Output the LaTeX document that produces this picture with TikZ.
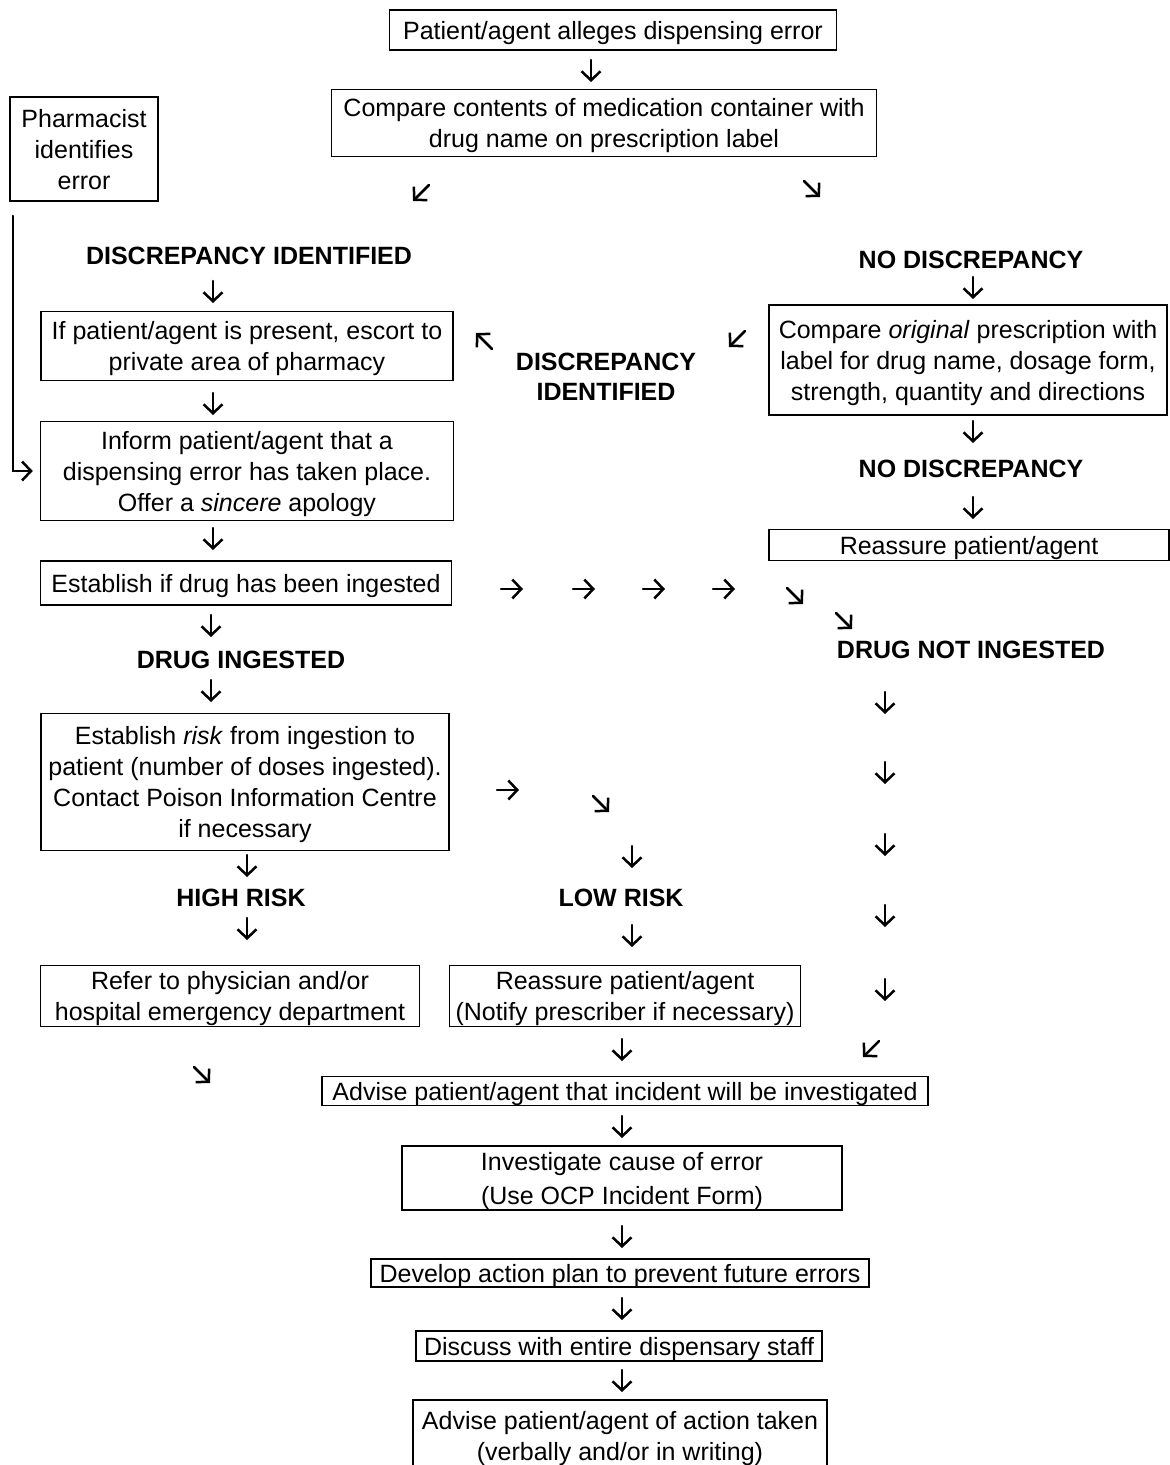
\documentclass[tikz,border=0pt]{standalone}
\usepackage{fontspec}
\setmainfont{Liberation Sans}
\usetikzlibrary{arrows.meta}
\newcommand\GlyDn[2]{\draw[glyph] (#1,{#2-11}) -- (#1,{#2+11});}
\newcommand\GlyRt[2]{\draw[glyph] ({#1-11},#2) -- ({#1+11},#2);}
\newcommand\GlyDR[2]{\draw[glyph] ({#1-8},{#2-8}) -- ({#1+8},{#2+8});}
\newcommand\GlyDL[2]{\draw[glyph] ({#1+8},{#2-8}) -- ({#1-8},{#2+8});}
\newcommand\GlyUL[2]{\draw[glyph] ({#1+8},{#2+8}) -- ({#1-8},{#2-8});}
\begin{document}
\begin{tikzpicture}[x=0.5pt,y=-0.5pt,
  box/.style={draw,line width=0.75pt,align=center,inner sep=0pt,text depth=0pt,font=\fontsize{12.5}{15.5}\selectfont},
  lbl/.style={align=center,inner sep=0pt,font=\fontsize{12.5}{15}\selectfont\bfseries},
  glyph/.style={line width=1.25pt,line cap=round,-{Straight Barb[length=4.5pt,width=9.5pt,line width=1.25pt]}},
]
\useasboundingbox (0,0) rectangle (1169,1465);
\fill[white] (0,0) rectangle (1169,1465);

\node[box,minimum width=223.5pt,minimum height=20pt] (allege) at (613,30) {Patient/agent alleges dispensing error};
\node[box,minimum width=272.5pt,minimum height=33.5pt] (compare) at (604,123) {Compare contents of medication container with\\drug name on prescription label};
\node[box,minimum width=74pt,minimum height=52pt] (pharm) at (84,149) {Pharmacist\\identifies\\error};
\node[lbl] (disc1) at (249,256) {DISCREPANCY IDENTIFIED};
\node[lbl] (nodisc1) at (971,260) {NO DISCREPANCY};
\node[box,minimum width=206pt,minimum height=34.5pt] (escort) at (247,346) {If patient/agent is present, escort to\\private area of pharmacy};
\node[lbl] (disc2) at (606,377) {DISCREPANCY\\IDENTIFIED};
\node[box,minimum width=199pt,minimum height=55pt] (orig) at (968,360) {Compare \textit{original} prescription with\\label for drug name, dosage form,\\strength, quantity and directions};
\node[box,minimum width=206.5pt,minimum height=49.5pt] (inform) at (247,471) {Inform patient/agent that a\\dispensing error has taken place.\\Offer a \textit{sincere} apology};
\node[lbl] (nodisc2) at (971,469) {NO DISCREPANCY};
\node[box,minimum width=200pt,minimum height=15.5pt] (reass1) at (969,545) {Reassure patient/agent};
\node[box,minimum width=205.5pt,minimum height=22pt] (ingest) at (246,583) {Establish if drug has been ingested};
\node[lbl] (ingd) at (241,660) {DRUG INGESTED};
\node[lbl] (noting) at (971,650) {DRUG NOT INGESTED};
\node[box,minimum width=204pt,minimum height=68.5pt] (risk) at (245,782) {Establish \textit{risk} from ingestion to\\patient (number of doses ingested).\\Contact Poison Information Centre\\if necessary};
\node[lbl] (high) at (241,898) {HIGH RISK};
\node[lbl] (low) at (621,898) {LOW RISK};
\node[box,minimum width=189.5pt,minimum height=30.5pt] (refer) at (230,996) {Refer to physician and/or\\hospital emergency department};
\node[box,minimum width=175.5pt,minimum height=30.5pt] (notify) at (625,996) {Reassure patient/agent\\(Notify prescriber if necessary)};
\node[box,minimum width=303pt,minimum height=14.5pt] (investig) at (625,1091) {Advise patient/agent that incident will be investigated};
\node[box,minimum width=220pt,minimum height=32pt,font=\fontsize{12.5}{17}\selectfont] (cause) at (622,1178) {Investigate cause of error\\(Use OCP Incident Form)};
\node[box,minimum width=249pt,minimum height=14pt] (plan) at (620,1273) {Develop action plan to prevent future errors};
\node[box,minimum width=203pt,minimum height=15pt] (staff) at (619,1346) {Discuss with entire dispensary staff};
\node[box,minimum width=207pt,minimum height=36pt] (told) at (620,1436) {Advise patient/agent of action taken\\(verbally and/or in writing)};

% pharmacist bypass line
\draw[glyph,line width=1pt] ([xshift=2pt,yshift=-7pt]pharm.south west) |- ([xshift=-3.5pt]inform.west);

% arrow glyphs
\GlyDn{591}{71}
\GlyDL{421}{193}
\GlyDR{812}{189}
\GlyDn{213}{292}
\GlyDn{213}{404}
\GlyDn{213}{539}
\GlyDn{211}{626}
\GlyDn{211}{691}
\GlyDn{247}{866}
\GlyDn{247}{929}
\GlyDn{973}{288}
\GlyDn{973}{432}
\GlyDn{973}{508}
\GlyUL{484}{341}
\GlyDL{737}{339}
\GlyRt{512}{589}
\GlyRt{584}{589}
\GlyRt{654}{589}
\GlyRt{724}{589}
\GlyDR{795}{596}
\GlyDR{844}{621}
\GlyDn{885}{703}
\GlyDn{885}{773}
\GlyDn{885}{845}
\GlyDn{885}{916}
\GlyDn{885}{990}
\GlyDL{871}{1049}
\GlyRt{508}{790}
\GlyDR{601}{804}
\GlyDn{632}{857}
\GlyDn{632}{936}
\GlyDn{622}{1050}
\GlyDR{202}{1075}
\GlyDn{622}{1127}
\GlyDn{622}{1237}
\GlyDn{622}{1309}
\GlyDn{622}{1381}
\end{tikzpicture}
\end{document}
